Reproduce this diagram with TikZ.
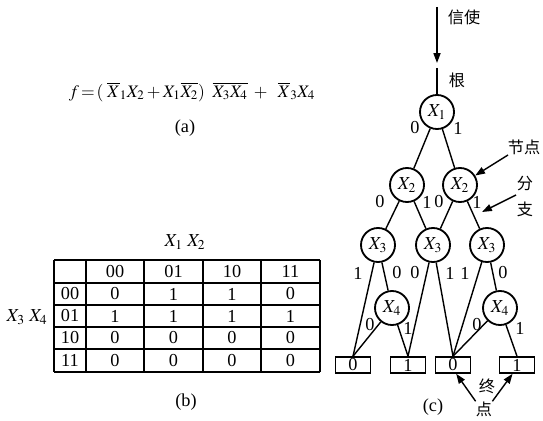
\documentclass[tikz,border=0pt]{standalone}
\usepackage{mathptmx}
\usepackage{fontspec}
\setmainfont{Liberation Serif}
\newfontfamily\cjk{Noto Sans CJK SC}
\usetikzlibrary{arrows.meta}

\begin{document}
\begin{tikzpicture}[
        vnode/.style={draw, circle, line width=1.3pt, minimum size=0.85cm,
                    inner sep=0pt, font=\fontsize{13}{14}\selectfont},
        leaf/.style={draw, line width=1.1pt, minimum width=0.875cm,
                    minimum height=0.4cm, inner sep=0pt, font=\fontsize{13}{14}\selectfont},
        lbl/.style={inner sep=0pt, font=\fontsize{13}{14}\selectfont},
        zh/.style={inner sep=0pt, font=\cjk\fontsize{11.5}{13}\selectfont},
        branch/.style={line width=1pt},
        ptr/.style={line width=1pt, -{Triangle[length=7pt,width=5pt]}},
        tline/.style={line width=1.1pt}
    ]
    \useasboundingbox (0,0) rectangle (13.575,10.5);

    % (a) formula
    \node[lbl, font=\fontsize{12.5}{14}\selectfont] (fml) at (4.8, 8.2)
        {$f\!=\!(\;\overline{X}_1X_2+X_1\overline{X_2})\;\;\overline{X_3X_4}\;+\;\;\overline{X}_3X_4$};
    \node[lbl] (capa) at (4.625, 7.3) {(a)};

    % (b) table
    \foreach \x in {1.35,2.15,3.6,5.075,6.525,8.0}
        \draw[tline] (\x,4.0) -- (\x,1.2);
    \foreach \y in {4.0,3.425,2.875,2.325,1.775,1.2}
        \draw[tline] (1.35,\y) -- (8.0,\y);
    \foreach \cx/\code [count=\i] in {2.875/00, 4.3375/01, 5.8/10, 7.2625/11}
        \node[lbl] (col\i) at (\cx, 3.7125) {\code};
    \foreach \ry/\code/\a/\b/\c/\d [count=\i] in
        {3.15/00/0/1/1/0, 2.6/01/1/1/1/1, 2.05/10/0/0/0/0, 1.4875/11/0/0/0/0} {
        \node[lbl] (row\i) at (1.75, \ry) {\code};
        \node[lbl] (v\i a) at (2.875, \ry) {\a};
        \node[lbl] (v\i b) at (4.3375, \ry) {\b};
        \node[lbl] (v\i c) at (5.8, \ry) {\c};
        \node[lbl] (v\i d) at (7.2625, \ry) {\d};
    }
    \node[lbl] (hdx) at (4.625, 4.45) {$X_1\ X_2$};
    \node[lbl] (hdy) at (0.675, 2.575) {$X_3\ X_4$};
    \node[lbl] (capb) at (4.65, 0.45) {(b)};

    % (c) decision tree
    \node[vnode] (x1)  at (10.925, 7.7)   {$X_1$};
    \node[vnode] (x2a) at (10.175, 5.875) {$X_2$};
    \node[vnode] (x2b) at (11.5, 5.875)   {$X_2$};
    \node[vnode] (x3a) at (9.45, 4.375)   {$X_3$};
    \node[vnode] (x3b) at (10.825, 4.375) {$X_3$};
    \node[vnode] (x3c) at (12.175, 4.375) {$X_3$};
    \node[vnode] (x4a) at (9.8, 2.8)      {$X_4$};
    \node[vnode] (x4b) at (12.5, 2.8)     {$X_4$};

    \node[leaf] (ta) at (8.825, 1.375)  {0};
    \node[leaf] (tb) at (10.2, 1.375)   {1};
    \node[leaf] (tc) at (11.325, 1.375) {0};
    \node[leaf] (td) at (12.925, 1.375) {1};

    % messenger arrow and root
    \coordinate (msg) at (10.925, 10.325);
    \coordinate (msgtip) at (10.925, 8.925);
    \coordinate (rt) at (10.925, 8.8);
    \draw[ptr] (msg) -- (msgtip);
    \draw[branch] (rt) -- (x1);

    % branches
    \draw[branch] (x1) -- (x2a);
    \draw[branch] (x1) -- (x2b);
    \draw[branch] (x2a) -- (x3a);
    \draw[branch] (x2a) -- (x3b);
    \draw[branch] (x2b) -- (x3b);
    \draw[branch] (x2b) -- (x3c);
    \draw[branch] (x3a) -- (ta.north);
    \draw[branch] (x3a) -- (x4a);
    \draw[branch] (x4a) -- (ta.north);
    \draw[branch] (x4a) -- (tb.north);
    \draw[branch] (x3b) -- (tb.north);
    \draw[branch] (x3b) -- (tc.north);
    \draw[branch] (x3c) -- (tc.north);
    \draw[branch] (x3c) -- (x4b);
    \draw[branch] (x4b) -- (tc.north);
    \draw[branch] (x4b) -- (td.north);

    % branch labels
    \node[lbl] (e1l) at (10.375, 7.3)  {0};
    \node[lbl] (e1r) at (11.45, 7.3)   {1};
    \node[lbl] (e2l) at (9.5, 5.45)    {0};
    \node[lbl] (e2m) at (10.675, 5.45) {1};
    \node[lbl] (e3m) at (10.975, 5.45) {0};
    \node[lbl] (e3r) at (11.925, 5.45) {1};
    \node[lbl] (e4l) at (8.95, 3.675)  {1};
    \node[lbl] (e4r) at (9.925, 3.675) {0};
    \node[lbl] (e5l) at (10.375, 3.675) {0};
    \node[lbl] (e5r) at (11.25, 3.675) {1};
    \node[lbl] (e6l) at (11.625, 3.675) {1};
    \node[lbl] (e6r) at (12.575, 3.675) {0};
    \node[lbl] (e7l) at (9.25, 2.375)  {0};
    \node[lbl] (e7r) at (10.2, 2.3)    {1};
    \node[lbl] (e8l) at (11.925, 2.375) {0};
    \node[lbl] (e8r) at (13.0, 2.3)    {1};

    % Chinese labels and pointers
    \node[zh] (xinshi) at (11.6, 10.075) {信使};
    \node[zh] (gen)    at (11.425, 8.5)  {根};
    \node[zh] (jd)     at (13.1, 6.825) {节点};
    \node[zh] (fen)    at (13.125, 5.9)  {分};
    \node[zh] (zhi)    at (13.125, 5.275) {支};
    \node[zh] (zhong)  at (12.175, 0.85) {终};
    \node[zh] (dian)   at (12.1, 0.275)  {点};
    \coordinate (jdfrom) at (12.7, 6.625);
    \coordinate (fzfrom) at (12.9, 5.625);
    \coordinate (fztip)  at (12.05, 5.2);
    \draw[ptr] (jdfrom) -- (x2b);
    \draw[ptr] (fzfrom) -- (fztip);
    \draw[ptr] (dian.north west) -- (tc.290);
    \draw[ptr] (dian.north east) -- (td.243);

    \node[lbl] (capc) at (10.825, 0.325) {(c)};
\end{tikzpicture}
\end{document}
